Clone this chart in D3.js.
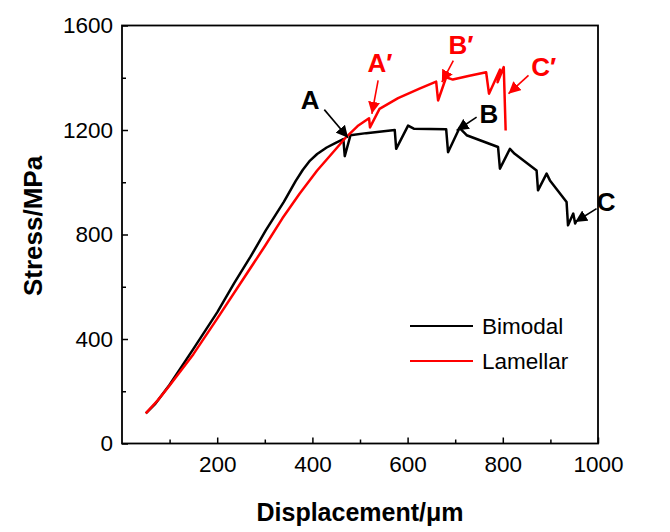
<!DOCTYPE html>
<html>
<head>
<meta charset="utf-8">
<script src="https://cdn.jsdelivr.net/npm/d3@7"></script>
<style>
  body { margin: 0; background: #fff; }
  text { font-family: "Liberation Sans", Arial, sans-serif; }
</style>
</head>
<body>
<svg id="chart" width="670" height="532"></svg>
<script>
// Bimodal curve (displacement in um, stress in MPa)
const bimodalX = [50, 70, 100, 150, 200, 236, 270, 302, 340, 365, 380, 395, 410, 430, 450, 465, 468, 480, 513, 573, 576, 601, 613, 681, 685, 709, 724, 790, 794, 815, 825, 871, 874, 892, 899, 934, 937, 948, 952, 955];
const bimodalY = [115, 152, 225, 362, 502, 615, 715, 816, 925, 1005, 1048, 1083, 1108, 1133, 1152, 1165, 1100, 1180, 1188, 1200, 1128, 1217, 1205, 1203, 1115, 1208, 1180, 1135, 1052, 1128, 1109, 1045, 969, 1033, 1007, 924, 835, 880, 842, 854];

// Lamellar curve
const lamellarX = [50, 75, 100, 150, 200, 253, 300, 337, 373, 410, 453, 471, 495, 519, 521, 541, 580, 625, 660, 664, 681, 695, 730, 765, 771, 794, 789, 802, 806];
const lamellarY = [115, 165, 222, 342, 478, 625, 755, 862, 956, 1045, 1135, 1173, 1215, 1245, 1210, 1281, 1322, 1358, 1385, 1313, 1402, 1393, 1408, 1421, 1339, 1431, 1383, 1441, 1198];

const xTicks = [200, 400, 600, 800, 1000];
const xMinor = [100, 300, 500, 700, 900];
const yTicks = [0, 400, 800, 1200, 1600];
const yMinor = [200, 600, 1000, 1400];

// annotation labels: [text, labelX, labelY, arrowFromX, arrowFromY, arrowToX, arrowToY, colour]
const notes = [
  ["A",  395, 1317, 425, 1278, 475, 1170, "black"],
  ["B",  771, 1262, 745, 1249, 703, 1198, "black"],
  ["C", 1017,  927, 997,  899, 952,  848, "black"],
  ["A\u2032", 542, 1458, 538, 1390, 525, 1262, "red"],
  ["B\u2032", 712, 1527, 696, 1466, 672, 1383, "red"],
  ["C\u2032", 886, 1443, 854, 1409, 812, 1339, "red"]
];

const seriesNames = ["Bimodal", "Lamellar"];
const seriesColors = ["black", "red"];

const svg = d3.select("#chart");
const x = d3.scaleLinear().domain([0, 1000]).range([122, 598]);
const y = d3.scaleLinear().domain([0, 1600]).range([443.5, 25.5]);

// arrow heads
const defs = svg.append("defs");
seriesColors.forEach(c => {
  defs.append("marker")
    .attr("id", "arrow-" + c)
    .attr("viewBox", "0 0 10 10")
    .attr("refX", 10).attr("refY", 5)
    .attr("markerWidth", 12).attr("markerHeight", 12)
    .attr("markerUnits", "userSpaceOnUse")
    .attr("orient", "auto")
    .append("path")
      .attr("d", "M0,0 L10,5 L0,10 z")
      .attr("fill", c);
});

// frame
svg.append("rect")
  .attr("x", x(0)).attr("y", y(1600))
  .attr("width", x(1000) - x(0)).attr("height", y(0) - y(1600))
  .attr("fill", "none").attr("stroke", "black").attr("stroke-width", 1.8);

// x axis
const xAxis = svg.append("g").attr("transform", "translate(0," + y(0) + ")");
xAxis.call(d3.axisBottom(x).tickValues(xTicks).tickSize(-6).tickPadding(13).tickFormat(d3.format("d")));
xAxis.append("g").call(d3.axisBottom(x).tickValues(xMinor).tickSize(-4).tickFormat(""));
xAxis.selectAll(".domain").remove();
xAxis.selectAll("line").attr("stroke-width", 1.5);
xAxis.selectAll("text").style("font-size", "22.5px").attr("fill", "black");

// y axis
const yAxis = svg.append("g").attr("transform", "translate(" + x(0) + ",0)");
yAxis.call(d3.axisLeft(y).tickValues(yTicks).tickSize(-6).tickPadding(9).tickFormat(d3.format("d")));
yAxis.append("g").call(d3.axisLeft(y).tickValues(yMinor).tickSize(-4).tickFormat(""));
yAxis.selectAll(".domain").remove();
yAxis.selectAll("line").attr("stroke-width", 1.5);
yAxis.selectAll("text").style("font-size", "22.5px").attr("fill", "black");

// axis titles
svg.append("text")
  .attr("x", 360).attr("y", 521)
  .attr("text-anchor", "middle")
  .style("font-size", "25px").style("font-weight", "bold")
  .text("Displacement/\u03bcm");

svg.append("text")
  .attr("transform", "translate(42," + 226 + ") rotate(-90)")
  .attr("text-anchor", "middle")
  .style("font-size", "26px").style("font-weight", "bold")
  .text("Stress/MPa");

// curves
const line = d3.line().x(d => x(d[0])).y(d => y(d[1]));
const curves = [d3.zip(bimodalX, bimodalY), d3.zip(lamellarX, lamellarY)];

svg.selectAll(".curve")
  .data(curves)
  .join("path")
    .attr("class", "curve")
    .attr("d", line)
    .attr("fill", "none")
    .attr("stroke", (d, i) => seriesColors[i])
    .attr("stroke-width", 2.5)
    .attr("stroke-linejoin", "round");

// annotations
svg.selectAll(".note-arrow")
  .data(notes)
  .join("line")
    .attr("class", "note-arrow")
    .attr("x1", d => x(d[3])).attr("y1", d => y(d[4]))
    .attr("x2", d => x(d[5])).attr("y2", d => y(d[6]))
    .attr("stroke", d => d[7])
    .attr("stroke-width", 1.6)
    .attr("marker-end", d => "url(#arrow-" + d[7] + ")");

svg.selectAll(".note-label")
  .data(notes)
  .join("text")
    .attr("class", "note-label")
    .attr("x", d => x(d[1])).attr("y", d => y(d[2]))
    .attr("dy", "0.36em")
    .attr("text-anchor", "middle")
    .style("font-size", "26px").style("font-weight", "bold")
    .attr("fill", d => d[7])
    .text(d => d[0]);

// legend
const legend = svg.append("g");
seriesNames.forEach((name, i) => {
  const ly = 326 + i * 35;
  legend.append("line")
    .attr("x1", 410).attr("x2", 473)
    .attr("y1", ly).attr("y2", ly)
    .attr("stroke", seriesColors[i]).attr("stroke-width", 2.2);
  legend.append("text")
    .attr("x", 482).attr("y", ly).attr("dy", "0.36em")
    .style("font-size", "22.5px")
    .text(name);
});
</script>
</body>
</html>
